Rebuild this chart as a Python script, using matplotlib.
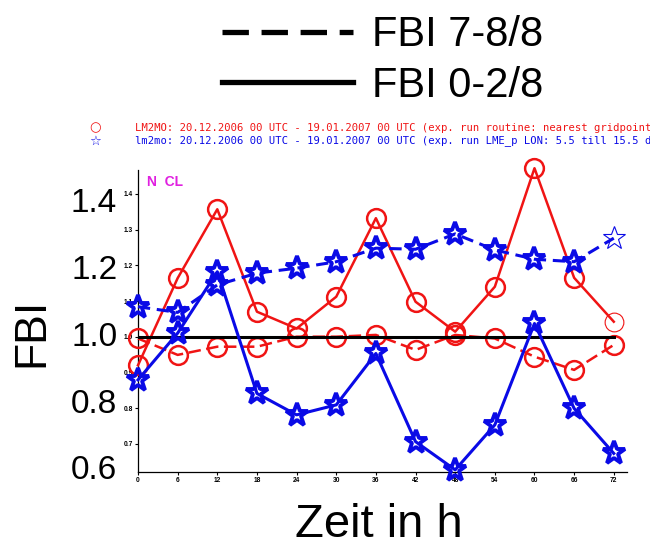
import matplotlib
matplotlib.use("Agg")
import matplotlib.pyplot as plt
from matplotlib.lines import Line2D
import numpy as np

plt.rcParams['font.family'] = ['Liberation Sans', 'DejaVu Sans']

# ---------------- data ----------------
hours = [0, 6, 12, 18, 24, 30, 36, 42, 48, 54, 60, 66, 72]
lm2mo_clear = [0.92, 1.164, 1.357, 1.070, 1.023, 1.112, 1.332, 1.098, 1.014, 1.140, 1.472, 1.165, 1.042]   # red solid
lm2mo_cloudy = [0.995, 0.949, 0.972, 0.972, 1.000, 1.000, 1.005, 0.963, 1.005, 0.995, 0.944, 0.907, 0.977]  # red dashed
lme_clear = [0.879, 1.010, 1.182, 0.841, 0.781, 0.809, 0.953, 0.706, 0.627, 0.753, 1.037, 0.799, 0.673]     # blue solid
lme_cloudy = [1.084, 1.068, 1.145, 1.178, 1.192, 1.210, 1.248, 1.245, 1.288, 1.243, 1.217, 1.210, 1.276]    # blue dashed
ref_value = 1.0

inner_yticks = [0.7, 0.8, 0.9, 1.0, 1.1, 1.2, 1.3, 1.4]
big_yticks = [0.6, 0.8, 1.0, 1.2, 1.4]
xticks = list(range(0, 73, 6))

legend_labels = ['FBI 7-8/8', 'FBI 0-2/8']
header_red = 'LM2MO: 20.12.2006 00 UTC - 19.01.2007 00 UTC (exp. run routine: nearest gridpoint'
header_blue = 'lm2mo: 20.12.2006 00 UTC - 19.01.2007 00 UTC (exp. run LME_p LON: 5.5 till 15.5 d'

RED = '#f01414'
BLUE = '#0a0ae6'
MAG = '#e020e0'

W_PX, H_PX = 650, 546
fig = plt.figure(figsize=(6.5, 5.46), dpi=100)

L = 138 / W_PX
Wd = 489 / W_PX
B = (H_PX - 471.7) / H_PX
H = 301.7 / H_PX

# big labels axis (behind)
ax2 = fig.add_axes([L, B, Wd, H], frameon=False)
ax2.set_ylim(0.5874, 1.4897)
ax2.set_yticks(big_yticks)
ax2.set_yticklabels([f'{v:.1f}' for v in big_yticks])
ax2.tick_params(axis='y', length=0, pad=15, labelsize=24)
ax2.set_xticks([])

# data axis
ax = fig.add_axes([L, B, Wd, H])
ax.set_facecolor('none')
ax.set_xlim(0, 74)
ax.set_ylim(0.6218, 1.467)
for s in ['top', 'right']:
    ax.spines[s].set_visible(False)
for s in ['left', 'bottom']:
    ax.spines[s].set_linewidth(0.9)
ax.set_yticks(inner_yticks)
ax.set_yticklabels([f'{v:.1f}' for v in inner_yticks])
ax.set_xticks(xticks)
ax.set_xticklabels([str(v) for v in xticks])
ax.tick_params(axis='both', length=2, width=0.8, pad=1.5, labelsize=4.8)
for t in ax.get_xticklabels() + ax.get_yticklabels():
    t.set_fontweight('bold')

x = np.array(hours)

def series(vals, color, ls, marker, ms, mew, lw, z):
    v = np.array(vals)
    ax.plot(x, v, color=color, ls=ls, lw=lw, marker=marker, ms=ms, mew=mew,
            mfc='none', mec=color, markevery=list(range(len(x) - 1)), zorder=z,
            clip_on=False)

red_dash = (0, (5, 2.2))
blue_dash = (0, (4, 2.2))
series(lm2mo_cloudy, RED, red_dash, 'o', 13.5, 1.8, 1.8, 3)
ax.plot(x[-1:], lm2mo_cloudy[-1:], ls='none', marker='o', ms=13.5, mew=1.8, mfc='none', mec=RED,
        zorder=3, clip_on=False)
series(lm2mo_clear, RED, '-', 'o', 13.5, 1.8, 1.8, 3)
ax.plot(x[-1:], lm2mo_clear[-1:], ls='none', marker='o', ms=13.5, mew=0.8, mfc='none', mec=RED,
        zorder=3, clip_on=False)

ax.plot([x[0], x[-1]], [ref_value, ref_value], color='black', lw=2.2, zorder=4)

series(lme_cloudy, BLUE, blue_dash, '*', 17, 2.8, 2.2, 5)
ax.plot(x[-1:], lme_cloudy[-1:], ls='none', marker='*', ms=17, mew=0.8, mfc='none', mec=BLUE,
        zorder=5, clip_on=False)
series(lme_clear, BLUE, '-', '*', 17, 2.8, 2.2, 5)
ax.plot(x[-1:], lme_clear[-1:], ls='none', marker='*', ms=17, mew=2.8, mfc='none', mec=BLUE,
        zorder=5, clip_on=False)

ax.text(0.018, 0.960, 'N  CL', transform=ax.transAxes, color=MAG, fontsize=10,
        fontweight='bold', ha='left', va='center')

# header lines
fig.text(135 / W_PX, 1 - 128 / H_PX, header_red, family='DejaVu Sans Mono', fontsize=7.6,
         color=RED, ha='left', va='center')
fig.text(135 / W_PX, 1 - 141 / H_PX, header_blue, family='DejaVu Sans Mono', fontsize=7.6,
         color=BLUE, ha='left', va='center')
fig.text(95 / W_PX, 1 - 127.5 / H_PX, '○', family='DejaVu Sans', fontsize=9.5,
         color=RED, ha='center', va='center')
fig.text(95 / W_PX, 1 - 141.5 / H_PX, '☆', family='DejaVu Sans', fontsize=9.5,
         color=BLUE, ha='center', va='center')

# axis titles
fig.text(32 / W_PX, 1 - 332 / H_PX, 'FBI', rotation=90, fontsize=32, ha='center', va='center')
fig.text(379 / W_PX, 1 - 525 / H_PX, 'Zeit in h', fontsize=34, ha='center', va='center')

# legend
handles = [Line2D([], [], color='black', lw=3.8, ls=(0, (5, 2.4))),
           Line2D([], [], color='black', lw=3.8, ls='-')]
fig.legend(handles, legend_labels, loc='upper left', bbox_to_anchor=(222 / W_PX, 0.972),
           frameon=False, fontsize=30, handlelength=3.14, handletextpad=0.46,
           labelspacing=0.25, borderpad=0, borderaxespad=0)

fig.savefig('out.png', dpi=100)
